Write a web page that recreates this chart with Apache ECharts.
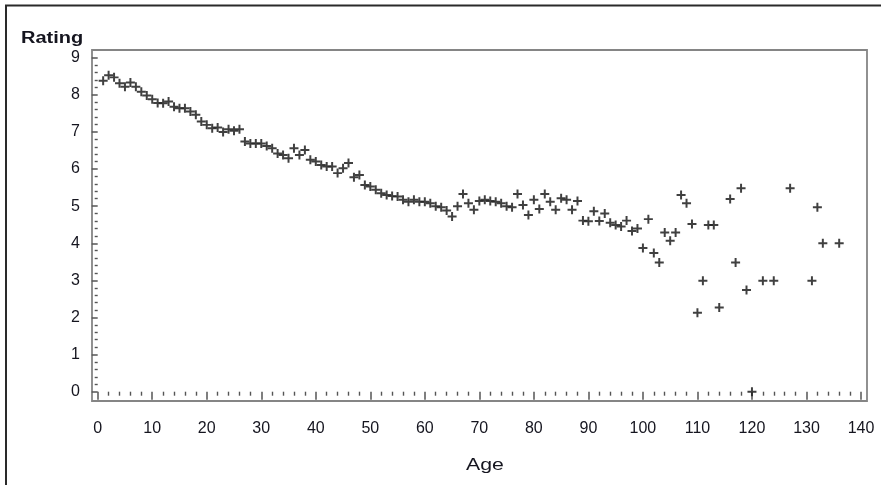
<!DOCTYPE html>
<html>
<head>
<meta charset="utf-8">
<script src="https://cdn.jsdelivr.net/npm/echarts@6/dist/echarts.min.js"></script>
<style>
html,body{margin:0;padding:0;background:#fff;}
#chart{width:881px;height:485px;}
</style>
</head>
<body>
<div id="chart"></div>
<script>
// Data
var ages = [1,2,3,4,5,6,7,8,9,10,11,12,13,14,15,16,17,18,19,20,
  21,22,23,24,25,26,27,28,29,30,31,32,33,34,35,36,37,38,39,40,
  41,42,43,44,45,46,47,48,49,50,51,52,53,54,55,56,57,58,59,60,
  61,62,63,64,65,66,67,68,69,70,71,72,73,74,75,76,77,78,79,80,
  81,82,83,84,85,86,87,88,89,90,91,92,93,94,95,96,97,98,99,100,
  101,102,103,104,105,106,107,108,109,110,111,112,113,114,
  116,117,118,119,120,122,124,127,131,132,133,136];
var ratings = [8.38,8.53,8.47,8.31,8.22,8.33,8.22,8.08,7.98,7.88,7.78,7.77,7.82,7.68,7.64,7.64,7.55,7.46,7.28,7.19,
  7.10,7.12,7.00,7.07,7.03,7.07,6.74,6.69,6.69,6.69,6.62,6.56,6.42,6.38,6.29,6.56,6.38,6.51,6.25,6.20,
  6.11,6.07,6.07,5.89,6.02,6.16,5.78,5.84,5.57,5.53,5.44,5.35,5.30,5.27,5.26,5.17,5.12,5.17,5.12,5.12,
  5.08,5.00,4.97,4.88,4.72,5.00,5.33,5.08,4.90,5.14,5.17,5.14,5.12,5.08,5.00,4.97,5.33,5.03,4.76,5.17,
  4.92,5.33,5.12,4.90,5.21,5.17,4.90,5.14,4.61,4.59,4.86,4.60,4.80,4.55,4.49,4.45,4.61,4.33,4.40,3.87,
  4.65,3.74,3.48,4.29,4.07,4.29,5.30,5.08,4.52,2.13,2.99,4.49,4.49,2.27,
  5.19,3.48,5.48,2.74,0.00,2.99,2.99,5.48,2.99,4.97,4.00,4.00];
var xTicks = [0,10,20,30,40,50,60,70,80,90,100,110,120,130,140];
var yTicks = [0,1,2,3,4,5,6,7,8,9];
var xTitle = 'Age';
var yTitle = 'Rating';

var points = ages.map(function(a, i){ return [a, ratings[i]]; });
var FONT = '"Liberation Sans", Arial, sans-serif';
var TXT = '#15151f';

var chart = echarts.init(document.getElementById('chart'), null, {renderer:'canvas'});
chart.setOption({
  animation: false,
  backgroundColor: '#ffffff',
  grid: {left: 97.7, right: 20, top: 57.7, bottom: 93.3, containLabel: false},
  xAxis: {
    type: 'value', min: xTicks[0], max: xTicks[xTicks.length-1], interval: 10,
    offset: 9.3,
    axisLine: {show: false},
    axisTick: {show: true, inside: false, length: 8, lineStyle: {color: '#555', width: 1.5}},
    minorTick: {show: true, splitNumber: 5, length: 4, lineStyle: {color: '#555', width: 1.4}},
    splitLine: {show: false},
    axisLabel: {margin: 20, fontSize: 16, fontFamily: FONT, color: TXT,
      formatter: function(v){ return xTicks.indexOf(v) >= 0 ? String(v) : ''; }}
  },
  yAxis: {
    type: 'value', min: yTicks[0], max: yTicks[yTicks.length-1], interval: 1,
    offset: 5.7,
    axisLine: {show: false},
    axisTick: {show: true, inside: false, length: 6, lineStyle: {color: '#555', width: 1.5}},
    minorTick: {show: true, splitNumber: 5, length: 3, lineStyle: {color: '#555', width: 1.4}},
    splitLine: {show: false},
    axisLabel: {margin: 12, fontSize: 16, fontFamily: FONT, color: TXT,
      formatter: function(v){ return yTicks.indexOf(v) >= 0 ? String(v) : ''; }}
  },
  series: [{
    type: 'scatter',
    data: points,
    symbol: 'path://M3.9,0h2.2v3.9h3.9v2.2h-3.9v3.9h-2.2v-3.9h-3.9v-2.2h3.9z',
    symbolSize: 9,
    itemStyle: {color: '#262626', opacity: 0.88},
    emphasis: {disabled: true}
  }],
  graphic: [
    {type: 'rect', silent: true, z: 0,
     shape: {x: 92, y: 50, width: 775, height: 351},
     style: {fill: 'none', stroke: '#858585', lineWidth: 1.8}},
    {type: 'polyline', silent: true,
     shape: {points: [[6, 485], [6, 5.5], [881, 5.5]]},
     style: {fill: 'none', stroke: '#2a2a2a', lineWidth: 2}},
    {type: 'text', silent: true, x: 21, y: 31, scaleX: 1.25,
     style: {text: yTitle, fontSize: 16, fontFamily: FONT, fill: TXT, fontWeight: 'bold'}},
    {type: 'text', silent: true, x: 485, y: 465, scaleX: 1.25,
     style: {text: xTitle, fontSize: 17, fontFamily: FONT, fill: TXT, align: 'center', verticalAlign: 'middle'}}
  ]
});
</script>
</body>
</html>
